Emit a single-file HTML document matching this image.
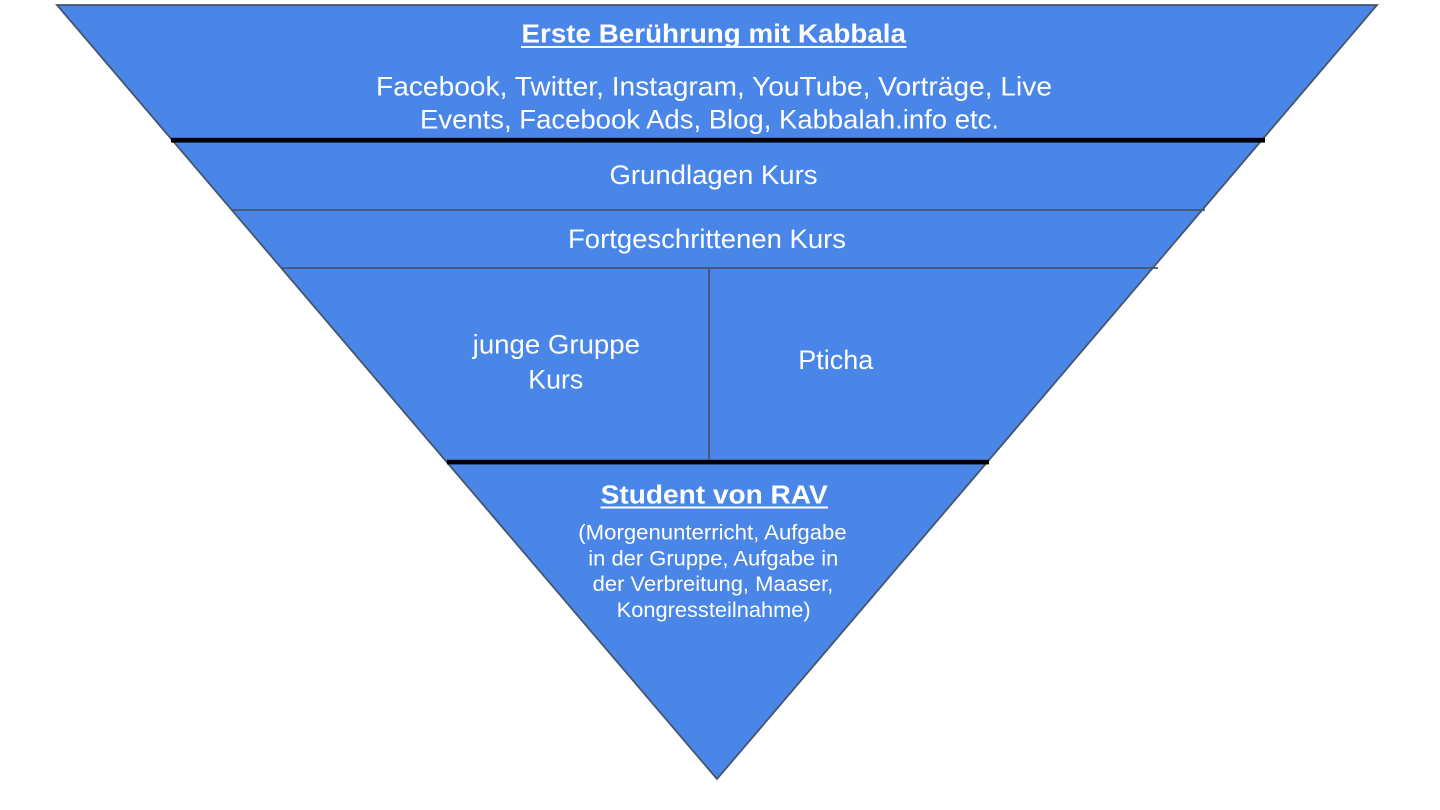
<!DOCTYPE html>
<html>
<head>
<meta charset="utf-8">
<style>
  html, body { margin: 0; padding: 0; background: #ffffff; }
  body { width: 1440px; height: 810px; overflow: hidden; }
  svg { display: block; }
  text { font-family: "Liberation Sans", Arial, sans-serif; fill: #ffffff; }
  .b { font-weight: bold; }
</style>
</head>
<body>
<svg width="1440" height="810" viewBox="0 0 1440 810" xmlns="http://www.w3.org/2000/svg">
  <!-- inverted triangle -->
  <polygon points="57,5 1377,5 717,779" fill="#4a86e8" stroke="#46556b" stroke-width="1.8" stroke-linejoin="miter"/>

  <!-- thick black separators -->
  <rect x="171" y="137.8" width="1094" height="4.8" fill="#000000"/>
  <rect x="447" y="459.8" width="542" height="4.6" fill="#000000"/>

  <!-- thin gray separators -->
  <line x1="232" y1="210" x2="1205" y2="210" stroke="#46556b" stroke-width="1.8"/>
  <line x1="281" y1="268" x2="1158" y2="268" stroke="#46556b" stroke-width="1.8"/>
  <line x1="709" y1="268" x2="709" y2="460" stroke="#46556b" stroke-width="1.8"/>

  <!-- Section 1 -->
  <text class="b" x="521.5" y="42.3" font-size="25.5" textLength="384.5" lengthAdjust="spacingAndGlyphs">Erste Berührung mit Kabbala</text>
  <rect x="521" y="46" width="385.5" height="2" fill="#ffffff"/>
  <text x="376" y="95.5" font-size="27" textLength="676" lengthAdjust="spacingAndGlyphs">Facebook, Twitter, Instagram, YouTube, Vorträge, Live</text>
  <text x="420" y="128.5" font-size="27" textLength="579" lengthAdjust="spacingAndGlyphs">Events, Facebook Ads, Blog, Kabbalah.info etc.</text>

  <!-- Section 2 -->
  <text x="609.5" y="184" font-size="27" textLength="208" lengthAdjust="spacingAndGlyphs">Grundlagen Kurs</text>

  <!-- Section 3 -->
  <text x="568" y="248" font-size="27" textLength="278" lengthAdjust="spacingAndGlyphs">Fortgeschrittenen Kurs</text>

  <!-- Section 4 -->
  <text x="472.7" y="353.3" font-size="27" textLength="167.3" lengthAdjust="spacingAndGlyphs">junge Gruppe</text>
  <text x="528.3" y="388.3" font-size="27" textLength="55" lengthAdjust="spacingAndGlyphs">Kurs</text>
  <text x="798.3" y="369" font-size="27" textLength="75" lengthAdjust="spacingAndGlyphs">Pticha</text>

  <!-- Section 5 -->
  <text class="b" x="600.7" y="503.3" font-size="25.5" textLength="227" lengthAdjust="spacingAndGlyphs">Student von RAV</text>
  <rect x="600.5" y="506.5" width="227.5" height="2" fill="#ffffff"/>
  <text x="578.3" y="539.5" font-size="21.5" textLength="268.4" lengthAdjust="spacingAndGlyphs">(Morgenunterricht, Aufgabe</text>
  <text x="588.3" y="565.3" font-size="21.5" textLength="250" lengthAdjust="spacingAndGlyphs">in der Gruppe, Aufgabe in</text>
  <text x="592.7" y="591.1" font-size="21.5" textLength="240.6" lengthAdjust="spacingAndGlyphs">der Verbreitung, Maaser,</text>
  <text x="616.7" y="616.9" font-size="21.5" textLength="194" lengthAdjust="spacingAndGlyphs">Kongressteilnahme)</text>
</svg>
</body>
</html>
